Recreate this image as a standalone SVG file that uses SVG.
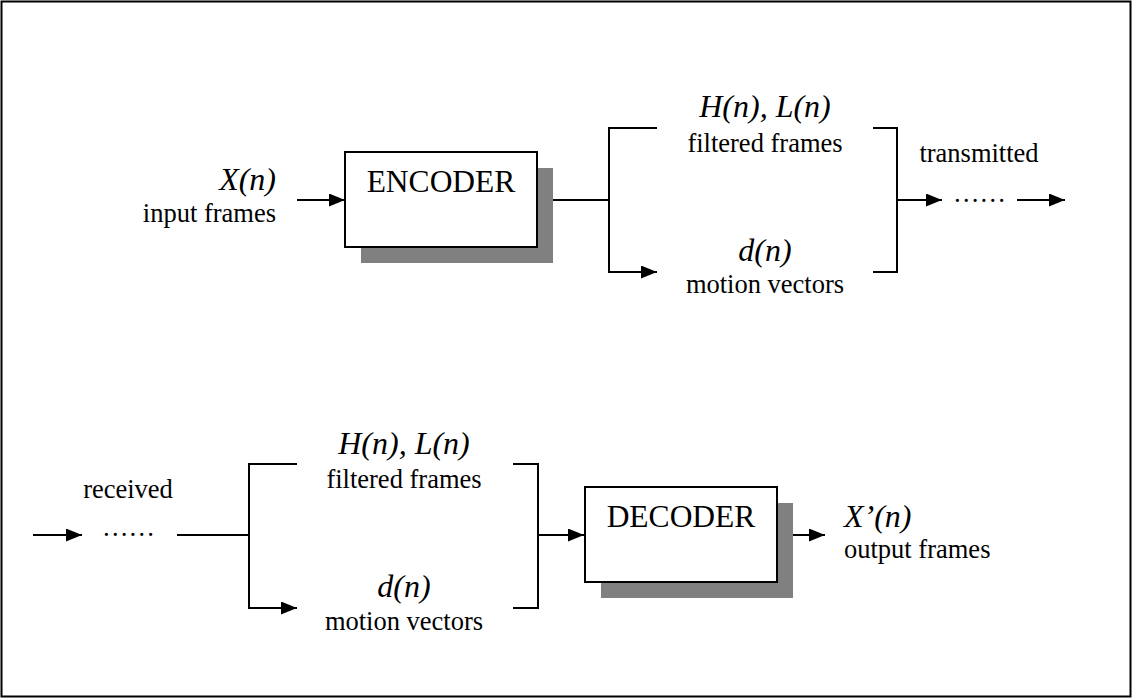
<svg xmlns="http://www.w3.org/2000/svg" width="1133" height="700" viewBox="0 0 1133 700">
<defs>
<marker id="ah" markerUnits="userSpaceOnUse" markerWidth="17" markerHeight="15" refX="16" refY="6.5" orient="auto">
<path d="M0,0 L16,6.5 L0,13 z" fill="#000"/>
</marker>
<style>
.ln{stroke:#000;stroke-width:2;fill:none}
.ar{stroke:#000;stroke-width:2;fill:none;marker-end:url(#ah)}
.box{fill:#fff;stroke:#000;stroke-width:2}
.sh{fill:#808080}
.t{font-family:"Liberation Serif","Times New Roman",serif;font-size:26.5px;fill:#000}
.it{font-family:"Liberation Serif","Times New Roman",serif;font-size:32px;font-style:italic;fill:#000}
.big{font-family:"Liberation Serif","Times New Roman",serif;font-size:31.5px;fill:#000}
</style>
</defs>
<rect x="1.5" y="1.5" width="1129" height="695" fill="#fff" stroke="#000" stroke-width="2"/>

<g id="connectors">
<line class="ar" x1="297" y1="200" x2="345" y2="200"/>
<polyline class="ln" points="537,200 609,200"/>
<polyline class="ar" points="657,128 609,128 609,272 657,272"/>
<polyline class="ln" points="873,128 897,128 897,272 873,272"/>
<line class="ar" x1="897" y1="200" x2="942" y2="200"/>
<line class="ar" x1="1017" y1="200" x2="1065" y2="200"/>

<line class="ar" x1="33" y1="535" x2="82" y2="535"/>
<line class="ln" x1="177" y1="535" x2="249" y2="535"/>
<polyline class="ar" points="297,464 249,464 249,608 297,608"/>
<polyline class="ln" points="513,464 538,464 538,608 513,608"/>
<line class="ar" x1="538" y1="535" x2="584" y2="535"/>
<line class="ar" x1="793" y1="535" x2="825" y2="535"/>
</g>

<g id="input">
<text class="it" x="276" y="190" text-anchor="end">X(n)</text>
<text class="t" x="276" y="222" text-anchor="end">input frames</text>
</g>

<g id="encoder">
<rect class="sh" x="361" y="168" width="192" height="95"/>
<rect class="box" x="345" y="152" width="192" height="95"/>
<text class="big" x="441" y="192" text-anchor="middle">ENCODER</text>
</g>

<g id="enc-filtered">
<text class="it" x="765" y="117" text-anchor="middle">H(n), L(n)</text>
<text class="t" x="765" y="152" text-anchor="middle">filtered frames</text>
</g>

<g id="enc-motion">
<text class="it" x="765" y="261" text-anchor="middle">d(n)</text>
<text class="t" x="765" y="293" text-anchor="middle">motion vectors</text>
</g>

<g id="transmitted">
<text class="t" x="979" y="162" text-anchor="middle">transmitted</text>
<text class="t" x="953" y="202">……</text>
</g>

<g id="received">
<text class="t" x="128" y="498" text-anchor="middle">received</text>
<text class="t" x="102" y="536">……</text>
</g>

<g id="dec-filtered">
<text class="it" x="404" y="454" text-anchor="middle">H(n), L(n)</text>
<text class="t" x="404" y="488" text-anchor="middle">filtered frames</text>
</g>

<g id="dec-motion">
<text class="it" x="404" y="597" text-anchor="middle">d(n)</text>
<text class="t" x="404" y="630" text-anchor="middle">motion vectors</text>
</g>

<g id="decoder">
<rect class="sh" x="601" y="503" width="192" height="95"/>
<rect class="box" x="585" y="487" width="192" height="95"/>
<text class="big" x="681" y="527" text-anchor="middle">DECODER</text>
</g>

<g id="output">
<text class="it" x="844" y="527">X’(n)</text>
<text class="t" x="844" y="558">output frames</text>
</g>
</svg>
